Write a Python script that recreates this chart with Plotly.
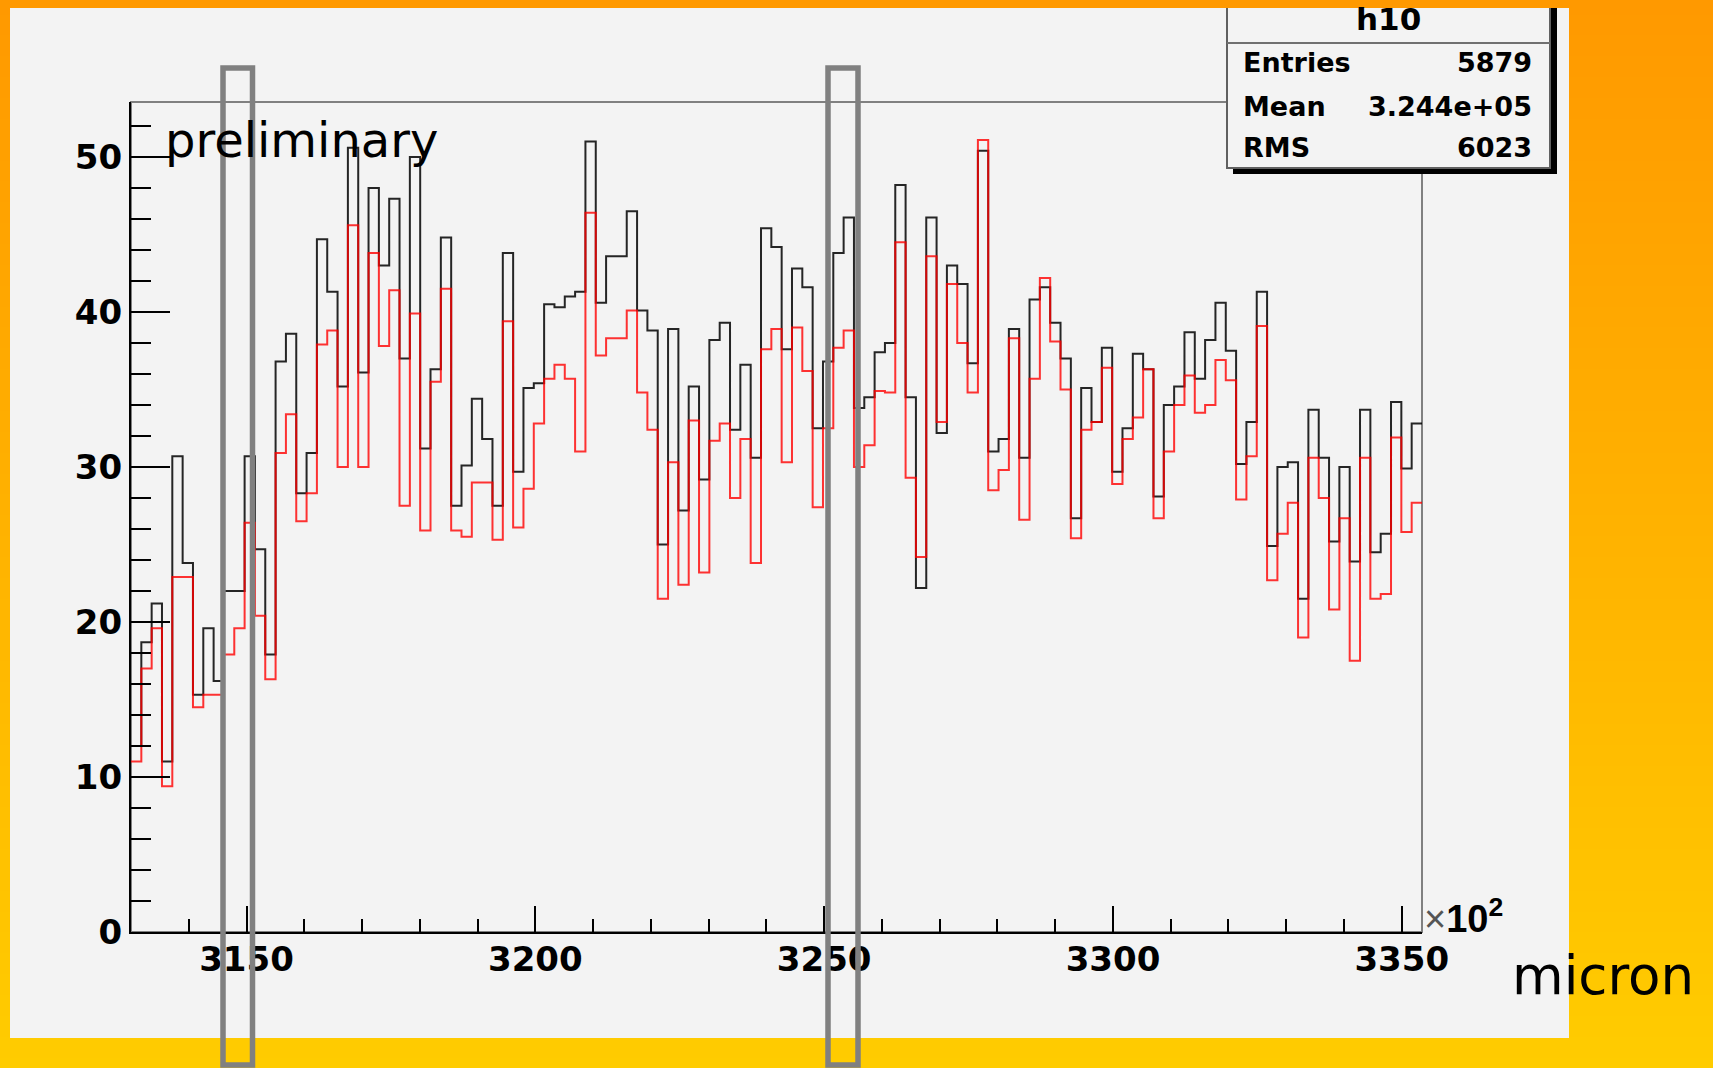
import base64
import struct
import zlib

import numpy as np
import plotly.graph_objects as go

# ---------------- data ----------------
x_low, x_high = 3130.0, 3353.5          # histogram range (x10^2 micron)
black_counts = [
    12.0, 18.7, 21.2, 11.0, 30.7, 23.8, 15.3, 19.6, 16.2, 22.0,
    22.0, 30.7, 24.7, 17.9, 36.8, 38.6, 28.3, 30.9, 44.7, 41.3,
    35.2, 50.6, 36.1, 48.0, 43.0, 47.3, 37.0, 50.0, 31.2, 36.3,
    44.8, 27.5, 30.1, 34.4, 31.8, 27.5, 43.8, 29.7, 35.1, 35.4,
    40.5, 40.3, 41.0, 41.3, 51.0, 40.6, 43.6, 43.6, 46.5, 40.1,
    38.8, 25.0, 38.9, 27.2, 35.2, 29.2, 38.2, 39.3, 32.4, 36.6,
    30.6, 45.4, 44.2, 37.6, 42.8, 41.6, 32.5, 36.8, 43.8, 46.1,
    33.8, 34.5, 37.4, 38.0, 48.2, 34.5, 22.2, 46.1, 32.2, 43.0,
    41.8, 36.7, 50.4, 31.0, 31.8, 38.9, 30.6, 40.8, 41.6, 39.3,
    37.0, 26.7, 35.1, 32.9, 37.7, 29.7, 32.5, 37.3, 36.3, 28.1,
    34.0, 35.2, 38.7, 35.7, 38.2, 40.6, 37.5, 30.2, 32.9, 41.3,
    24.9, 30.0, 30.3, 21.5, 33.7, 30.6, 25.2, 30.0, 23.9, 33.7,
    24.5, 25.7, 34.2, 29.9, 32.8,
]
red_counts = [
    11.0, 17.0, 19.6, 9.4, 22.9, 22.9, 14.5, 15.3, 15.3, 17.9,
    19.6, 26.4, 20.4, 16.3, 30.9, 33.4, 26.5, 28.3, 37.9, 38.8,
    30.0, 45.6, 30.0, 43.8, 37.8, 41.4, 27.5, 39.9, 25.9, 35.5,
    41.5, 25.9, 25.5, 29.0, 29.0, 25.3, 39.4, 26.1, 28.6, 32.8,
    35.7, 36.6, 35.7, 31.0, 46.4, 37.2, 38.3, 38.3, 40.1, 34.8,
    32.4, 21.5, 30.3, 22.4, 33.0, 23.2, 31.7, 32.8, 28.0, 31.8,
    23.8, 37.6, 38.9, 30.3, 39.0, 36.2, 27.4, 32.5, 37.7, 38.8,
    30.0, 31.4, 34.9, 34.8, 44.5, 29.3, 24.2, 43.6, 32.9, 41.8,
    38.0, 34.8, 51.1, 28.5, 29.8, 38.3, 26.6, 35.7, 42.2, 38.1,
    35.0, 25.4, 32.4, 32.9, 36.4, 28.9, 31.8, 33.2, 36.3, 26.7,
    31.0, 34.0, 35.9, 33.5, 34.0, 36.9, 35.6, 27.9, 30.7, 39.1,
    22.7, 25.7, 27.7, 19.0, 30.6, 28.0, 20.8, 26.7, 17.5, 30.6,
    21.5, 21.8, 31.9, 25.8, 27.7,
]
stats_title = "h10"
stats_labels = ["Entries", "Mean", "RMS"]
stats_values = ["5879", "3.244e+05", "6023"]
y_max = 53.55

# ---------------- geometry helpers ----------------
W, H = 1713, 1068
L, R, T, B = 131, 1422, 102, 932


def X(px):
    return (px - L) / (R - L)


def Y(py):
    return (B - py) / (B - T)


def gradient_png(h, top, bottom):
    raw = b""
    for i in range(h):
        t = i / (h - 1)
        c = bytes(int(round(top[j] + (bottom[j] - top[j]) * t)) for j in range(3))
        raw += b"\x00" + c + c
    def chunk(tag, data):
        return (struct.pack(">I", len(data)) + tag + data
                + struct.pack(">I", zlib.crc32(tag + data) & 0xFFFFFFFF))
    ihdr = struct.pack(">IIBBBBB", 2, h, 8, 2, 0, 0, 0)
    png = (b"\x89PNG\r\n\x1a\n" + chunk(b"IHDR", ihdr)
           + chunk(b"IDAT", zlib.compress(raw)) + chunk(b"IEND", b""))
    return "data:image/png;base64," + base64.b64encode(png).decode()


edges = np.linspace(x_low, x_high, len(black_counts) + 1)

fig = go.Figure()
fig.add_trace(go.Scatter(
    x=edges, y=black_counts + [black_counts[-1]], mode="lines",
    line=dict(shape="hv", color="rgba(0,0,0,0.85)", width=2),
    hoverinfo="skip", showlegend=False))
fig.add_trace(go.Scatter(
    x=edges, y=red_counts + [red_counts[-1]], mode="lines",
    line=dict(shape="hv", color="rgba(255,0,0,0.8)", width=2),
    hoverinfo="skip", showlegend=False))

tickfont = dict(family="DejaVu Sans", size=34, color="black", weight="bold")

fig.update_layout(
    width=W, height=H,
    margin=dict(l=L, r=W - R, t=T, b=H - B, pad=0),
    paper_bgcolor="#FFB000",
    plot_bgcolor="#F3F3F3",
    showlegend=False,
    xaxis=dict(
        range=[x_low, x_high], showgrid=False, zeroline=False,
        showline=True, linecolor="black", linewidth=2,
        ticks="inside", ticklen=26, tickwidth=2, tickcolor="black",
        tick0=3150, dtick=50, tickfont=tickfont, ticklabelstandoff=-4,
        minor=dict(dtick=10, ticks="inside", ticklen=13, tickwidth=2,
                   tickcolor="black", showgrid=False),
    ),
    yaxis=dict(
        range=[0, y_max], showgrid=False, zeroline=False,
        showline=True, linecolor="black", linewidth=2,
        ticks="inside", ticklen=39, tickwidth=2, tickcolor="black",
        tick0=0, dtick=10, tickfont=tickfont, ticklabelstandoff=0,
        minor=dict(dtick=2, ticks="inside", ticklen=20, tickwidth=2,
                   tickcolor="black", showgrid=False),
    ),
)

# background gradient
fig.add_layout_image(dict(
    source=gradient_png(256, (255, 153, 0), (255, 204, 0)),
    xref="paper", yref="paper", x=X(0), y=Y(0),
    sizex=W / (R - L), sizey=H / (B - T),
    xanchor="left", yanchor="top", sizing="stretch", layer="below"))

shapes = []
# light panel
shapes.append(dict(type="rect", xref="paper", yref="paper",
                   x0=X(10), x1=X(1569), y0=Y(1038), y1=Y(8),
                   fillcolor="#F3F3F3", line=dict(width=0), layer="below"))
# frame (top/right)
shapes.append(dict(type="rect", xref="paper", yref="paper",
                   x0=0, x1=1, y0=0, y1=1,
                   line=dict(color="#808080", width=2), layer="below"))
# gray marker rectangles
for xa, xb in [(223, 252.5), (828, 858)]:
    shapes.append(dict(type="rect", xref="paper", yref="paper",
                       x0=X(xa), x1=X(xb), y0=Y(1065), y1=Y(68),
                       line=dict(color="#808080", width=5.5), layer="above"))
# stats box shadow
shapes.append(dict(type="rect", xref="paper", yref="paper",
                   x0=X(1233), x1=X(1557), y0=Y(174), y1=Y(8),
                   fillcolor="black", line=dict(width=0), layer="above"))
# stats box body
shapes.append(dict(type="rect", xref="paper", yref="paper",
                   x0=X(1227), x1=X(1550), y0=Y(168), y1=Y(8),
                   fillcolor="#F3F3F3", line=dict(width=0), layer="above"))
shapes.append(dict(type="path", xref="paper", yref="paper",
                   path=(f"M {X(1227)},{Y(8)} L {X(1227)},{Y(168)} "
                         f"L {X(1550)},{Y(168)} L {X(1550)},{Y(8)}"),
                   line=dict(color="#606060", width=2), layer="above"))
shapes.append(dict(type="line", xref="paper", yref="paper",
                   x0=X(1227), x1=X(1550), y0=Y(43), y1=Y(43),
                   line=dict(color="#707070", width=2), layer="above"))
fig.update_layout(shapes=shapes)

ann = []
ann.append(dict(text=stats_title, x=X(1388), y=Y(19), xref="paper", yref="paper",
                xanchor="center", yanchor="middle", showarrow=False,
                font=dict(family="DejaVu Sans", size=31, color="black", weight="bold")))
for lab, val, yc in zip(stats_labels, stats_values, [62.5, 106.5, 147]):
    ann.append(dict(text=lab, x=X(1241), y=Y(yc), xref="paper", yref="paper",
                    xanchor="left", yanchor="middle", showarrow=False,
                    font=dict(family="DejaVu Sans", size=27, color="black", weight="bold")))
    ann.append(dict(text=val, x=X(1534), y=Y(yc), xref="paper", yref="paper",
                    xanchor="right", yanchor="middle", showarrow=False,
                    font=dict(family="DejaVu Sans", size=27, color="black", weight="bold")))
ann.append(dict(text="preliminary", x=X(163), y=Y(140), xref="paper", yref="paper",
                xanchor="left", yanchor="middle", showarrow=False,
                font=dict(family="DejaVu Sans", size=48, color="black")))
ann.append(dict(text="micron", x=X(1510), y=Y(975), xref="paper", yref="paper",
                xanchor="left", yanchor="middle", showarrow=False,
                font=dict(family="DejaVu Sans", size=53, color="black")))
ann.append(dict(text="<span style='color:#555'>×</span><b>10<sup>2</sup></b>",
                x=X(1422), y=Y(916), xref="paper", yref="paper",
                xanchor="left", yanchor="middle", showarrow=False,
                font=dict(family="Liberation Sans", size=38, color="black")))
fig.update_layout(annotations=ann)

fig.write_html("out.html", config={"displayModeBar": False},
               post_script="document.body.style.margin='0';document.body.style.overflow='hidden';")
